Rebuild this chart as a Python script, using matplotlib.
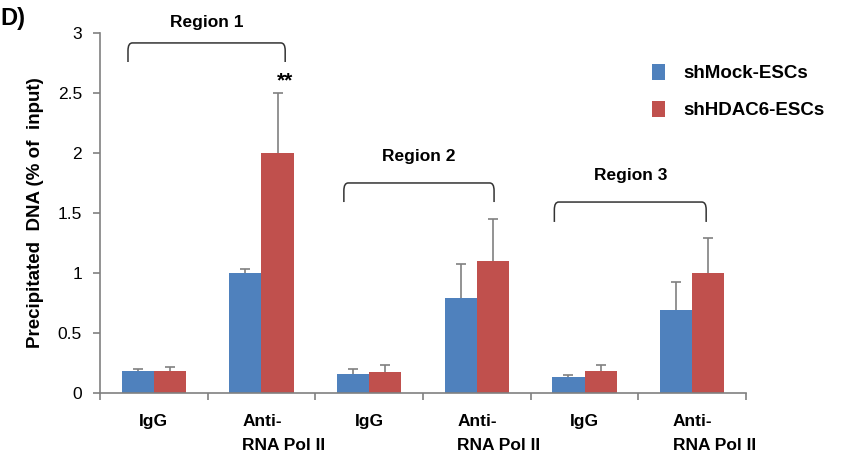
import numpy as np
import matplotlib
matplotlib.use("Agg")
import matplotlib.pyplot as plt
from matplotlib.path import Path
from matplotlib.patches import PathPatch

plt.rcParams['font.family'] = ['Liberation Sans', 'DejaVu Sans']

# data
categories = ["IgG", "Anti-\nRNA Pol II", "IgG", "Anti-\nRNA Pol II", "IgG", "Anti-\nRNA Pol II"]
series_names = ["shMock-ESCs", "shHDAC6-ESCs"]
mock = [0.18, 1.00, 0.155, 0.79, 0.128, 0.69]
mock_err = [0.015, 0.03, 0.045, 0.285, 0.02, 0.235]
hdac6 = [0.18, 2.00, 0.17, 1.10, 0.183, 0.995]
hdac6_err = [0.035, 0.50, 0.06, 0.35, 0.048, 0.297]
regions = ["Region 1", "Region 2", "Region 3"]
yticks = [0, 0.5, 1, 1.5, 2, 2.5, 3]
ytick_labels = ["0", "0.5", "1", "1.5", "2", "2.5", "3"]

blue = '#4F81BD'
red = '#C0504D'
grey = '#808080'

fig = plt.figure(figsize=(8.46, 4.55), dpi=100)
ax = fig.add_axes([0.1182, 0.137, 0.7636, 0.7905])

x = np.arange(len(categories))
w = 0.3
ax.bar(x - w/2, mock, w, color=blue, label=series_names[0], zorder=2)
ax.bar(x + w/2, hdac6, w, color=red, label=series_names[1], zorder=2)
# upper error bars only -> hide the lower caps
for xs, vals, errs in [(x - w/2, mock, mock_err), (x + w/2, hdac6, hdac6_err)]:
    eb = ax.errorbar(xs, vals, yerr=[np.zeros(len(vals)), errs], fmt='none',
                     ecolor=grey, elinewidth=1.2, capsize=3.5, capthick=1.2, zorder=3)
    eb[1][0].set_visible(False)

ax.set_xlim(-0.5, len(categories) - 0.5)
ax.set_ylim(0, 3)
ax.set_yticks(yticks)
ax.set_yticklabels(ytick_labels, fontsize=12.5)
ax.set_xticks(np.arange(len(categories) + 1) - 0.5)
ax.set_xticklabels([])
ax.tick_params(axis='both', color=grey, length=5, width=1.2)
ax.tick_params(axis='y', pad=8)
for s in ['top', 'right']:
    ax.spines[s].set_visible(False)
for s in ['left', 'bottom']:
    ax.spines[s].set_color(grey)
    ax.spines[s].set_linewidth(1.2)

# category labels under the axis
for i, c in enumerate(categories):
    if c == "IgG":
        ax.text(i, -0.18, c, ha='center', va='top', fontsize=12.5, fontweight='bold',
                clip_on=False)
    else:
        ax.text(i - 0.18, -0.18, c, ha='left', va='top', fontsize=12.5, fontweight='bold',
                multialignment='left', linespacing=1.75, clip_on=False)

ax.set_ylabel("Precipitated  DNA (% of  input)", fontsize=13.5, fontweight='bold', labelpad=10)


# brackets over each region
def bracket(x0, x1, ytop, ybot, r=0.04):
    verts = [(x0, ybot), (x0, ytop - r*1.6), (x0, ytop), (x0 + r, ytop),
             (x1 - r, ytop), (x1, ytop), (x1, ytop - r*1.6), (x1, ybot)]
    codes = [Path.MOVETO, Path.LINETO, Path.CURVE3, Path.CURVE3,
             Path.LINETO, Path.CURVE3, Path.CURVE3, Path.LINETO]
    ax.add_patch(PathPatch(Path(verts, codes), fill=False, edgecolor='#333333',
                           linewidth=1.1, clip_on=False))


bx = [(-0.24, 1.22), (1.765, 3.16), (3.72, 5.13)]
by = [(2.917, 2.758), (1.749, 1.59), (1.59, 1.424)]
ly = [3.09, 1.97, 1.815]
for name, (x0, x1), (yt, yb), yl in zip(regions, bx, by, ly):
    bracket(x0, x1, yt, yb)
    ax.text((x0 + x1) / 2, yl, name, ha='center', va='center', fontsize=12.5,
            fontweight='bold', clip_on=False)

ax.text(1.22, 2.6, "**", ha='center', va='center', fontsize=15, fontweight='bold')

leg = ax.legend(loc='upper left', bbox_to_anchor=(0.828, 0.96), frameon=False,
                prop={'size': 13.5, 'weight': 'bold'}, handlelength=0.7, handleheight=0.9,
                handletextpad=1.0, labelspacing=1.0)

fig.text(0.0, 0.985, "D)", fontsize=17, fontweight='bold', ha='left', va='top')

fig.savefig("out.png", dpi=100)
